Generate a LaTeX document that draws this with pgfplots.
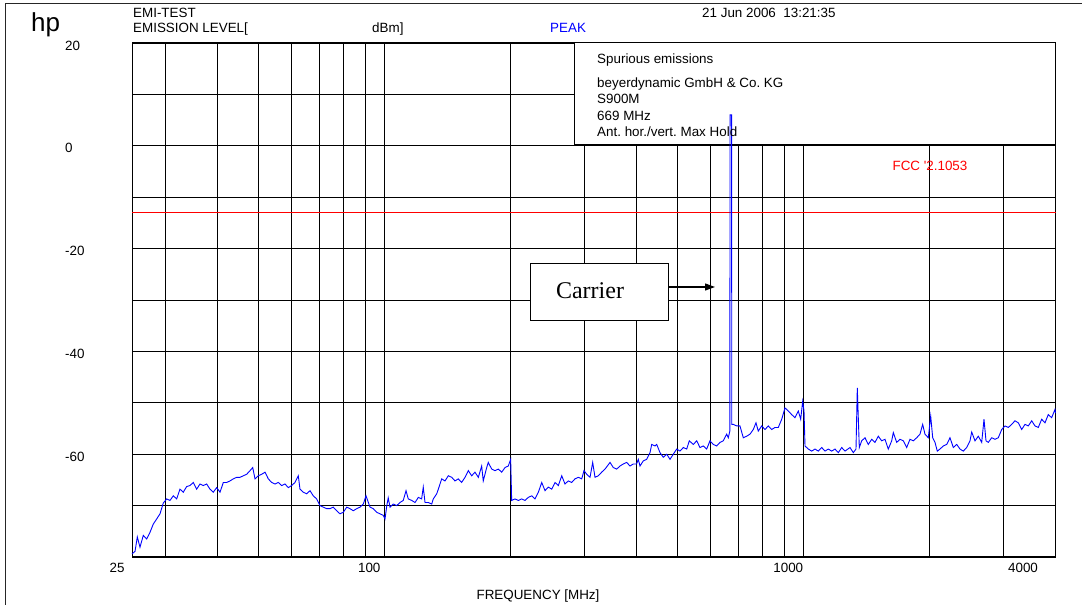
\documentclass[border=0pt]{standalone}
\usepackage{fontspec}
\setmainfont{Liberation Sans}
\newfontfamily\serifx{Liberation Serif}
\usepackage{pgfplots}
\pgfplotsset{compat=1.18}
\usetikzlibrary{arrows.meta}
\newcommand\ft{\fontsize{13.4bp}{16bp}\selectfont}
\begin{document}
\frenchspacing
\ft
\begin{tikzpicture}[x=1bp,y=1bp]
\useasboundingbox (0,0) rectangle (1082,605);
\draw[line width=1bp, black!85] (5,0) -- (5,601) -- (1082,601);
\node[anchor=base west, inner sep=0, font=\fontsize{26bp}{30bp}\selectfont] at (31,573) {hp};
\node[anchor=base west, inner sep=0] at (133,587) {EMI-TEST};
\node[anchor=base west, inner sep=0] at (133,572) {EMISSION LEVEL[};
\node[anchor=base west, inner sep=0] at (372,572) {dBm]};
\node[anchor=base west, inner sep=0, text=blue] at (550,572) {PEAK};
\node[anchor=base west, inner sep=0] at (702,587) {21 Jun 2006\ \ 13:21:35};
\begin{axis}[
  at={(132bp,48bp)}, anchor=south west, scale only axis,
  width=923.5bp, height=514bp,
  xmode=log, xmin=25, xmax=4000, ymin=-80, ymax=20,
  xtick={25,30,40,50,60,70,80,90,100,200,300,400,500,600,700,800,900,1000,2000,3000,4000},
  xticklabels={25,,,,,,,,100,,,,,,,,,1000,,,{4000\rule{35bp}{0pt}}},
  ytick={-80,-70,-60,-50,-40,-30,-20,-10,0,10,20},
  yticklabels={,,-60,,-40,,-20,,0,,20},
  grid=major, major grid style={black, line width=0.8bp},
  major tick length=0pt, minor tick length=0pt,
  axis line style={line width=1bp},
  xticklabel style={anchor=north, inner sep=0pt, yshift=-5.7bp, xshift=-15bp, font=\ft},
  yticklabel style={anchor=west, inner sep=0pt, xshift=-67bp, yshift=-2.5bp, font=\ft},
  clip=false,
]
\draw[line width=1bp, fill=white] (rel axis cs:0.4786,0.8016) rectangle (rel axis cs:1,1);
\addplot[red, line width=0.8bp] coordinates {(25,-13) (4000,-13)};
\addplot[blue, line width=0.9bp] coordinates {
(25.0,-79.4) (25.42,-78.9) (25.74,-76.1) (26.12,-78.1) (26.60,-75.8) (27.10,-76.5) (27.60,-75.2) (28.10,-73.6)
(28.63,-72.6) (29.16,-71.6) (29.69,-69.5) (30.25,-68.7) (30.80,-69.0) (31.37,-68.1) (31.96,-68.7) (32.54,-66.8)
(33.14,-67.4) (33.76,-66.3) (34.38,-66.1) (35.01,-65.5) (35.67,-66.8) (36.33,-65.8) (36.99,-66.1) (37.69,-65.8)
(38.38,-66.8) (39.08,-67.4) (39.82,-66.5) (40.55,-67.4) (41.29,-65.5) (42.07,-65.5) (42.84,-65.2) (43.62,-64.8)
(44.44,-64.5) (45.26,-64.5) (46.08,-64.2) (46.96,-63.9) (47.82,-63.2) (48.53,-62.6) (49.15,-64.8) (50.05,-64.2)
(50.99,-63.9) (51.93,-63.5) (52.87,-64.8) (53.87,-65.5) (54.86,-65.8) (55.86,-65.5) (56.91,-66.1) (57.95,-65.8)
(59.02,-66.5) (60.13,-66.1) (61.23,-65.5) (62.35,-64.2) (62.93,-66.8) (64.09,-67.4) (65.30,-67.7) (66.49,-67.1)
(67.70,-68.1) (68.98,-68.7) (70.25,-70.0) (71.53,-70.3) (72.88,-70.6) (74.21,-70.6) (75.57,-70.3) (77.0,-71.0)
(78.41,-71.6) (79.84,-71.3) (81.35,-70.3) (82.84,-70.6) (84.35,-71.0) (85.95,-70.6) (87.52,-70.3) (89.12,-69.7)
(90.45,-68.1) (92.47,-70.3) (94.16,-70.6) (95.93,-71.3) (97.68,-71.6) (99.47,-71.9) (100.41,-72.6) (101.4,-70.0)
(102.2,-68.5) (103.2,-70.3) (105.1,-69.7) (107.1,-70.0) (109.0,-69.4) (111.0,-69.0) (112.7,-67.1) (114.1,-68.7)
(116.3,-69.0) (118.4,-69.4) (120.6,-68.4) (122.8,-68.7) (123.9,-66.4) (125.1,-69.4) (127.4,-69.4) (129.8,-69.7)
(130.9,-68.7) (133.4,-67.7) (134.6,-66.8) (137.1,-64.8) (139.6,-65.2) (142.2,-64.2) (144.9,-64.5) (147.5,-65.2)
(150.2,-64.8) (153.0,-65.5) (155.9,-64.5) (158.7,-63.2) (161.7,-64.2) (164.6,-63.5) (167.7,-64.5) (170.8,-62.3)
(172.3,-65.2) (175.6,-62.6) (177.1,-61.6) (180.5,-62.9) (183.8,-63.2) (187.2,-62.9) (190.7,-63.5) (194.2,-62.6)
(197.7,-62.3) (200.3,-61.0) (201.4,-69.0) (205.1,-68.7) (208.9,-69.0) (212.8,-68.7) (216.7,-69.0) (220.7,-68.4)
(224.9,-68.1) (229.0,-68.7) (233.2,-67.4) (237.6,-65.5) (241.9,-67.1) (246.3,-66.4) (251.0,-66.8) (255.6,-65.5)
(260.3,-66.1) (265.2,-64.2) (270.0,-65.8) (274.9,-65.2) (280.1,-65.5) (285.2,-64.8) (290.5,-64.5) (296.0,-64.8)
(299.7,-63.2) (304.2,-63.9) (309.8,-64.5) (314.4,-61.6) (318.4,-64.5) (324.2,-64.2) (330.3,-63.5) (336.4,-62.9)
(345.8,-61.6) (352.1,-62.6) (358.7,-62.9) (365.3,-62.3) (372.0,-61.9) (379.0,-61.6) (385.9,-62.3) (393.0,-61.9)
(400.1,-61.9) (403.9,-61.0) (407.7,-62.3) (415.2,-61.3) (423.0,-61.0) (430.8,-59.7) (434.8,-58.1) (442.8,-58.4)
(446.9,-58.1) (455.1,-59.7) (463.4,-60.6) (472.2,-60.0) (480.8,-61.0) (489.6,-60.0) (498.8,-59.0) (507.9,-59.4)
(517.3,-58.7) (527.0,-59.0) (534.6,-57.4) (546.5,-58.1) (556.8,-57.4) (566.9,-58.7) (577.3,-58.4) (588.2,-59.0)
(599.0,-57.4) (609.9,-58.1) (621.4,-58.4) (632.8,-57.7) (644.4,-57.4) (656.5,-56.1) (662.3,-56.8) (668.0,-55.5)
(668.8,6.0) (674.5,6.0) (675.2,-54.2)
(680.8,-54.2) (693.6,-54.5) (706.3,-54.5) (719.3,-56.8) (732.8,-56.5) (746.3,-56.1) (759.9,-55.2) (771.3,-53.9)
(781.1,-55.5) (795.8,-54.5) (810.4,-55.2) (825.2,-54.5) (840.7,-55.2) (856.2,-54.8) (871.8,-54.8) (888.3,-53.2)
(904.5,-51.0) (921.1,-51.6) (938.4,-52.3) (955.6,-52.9) (973.1,-51.6) (986.0,-53.2) (996.9,-49.7) (1004.1,-51.6)
(1009.6,-58.4) (1028.1,-59.0) (1047.5,-59.4) (1066.6,-59.0) (1086.1,-59.4) (1106.7,-58.7) (1127.0,-59.4) (1147.5,-59.0)
(1169.2,-59.4) (1190.5,-59.0) (1212.3,-59.7) (1235.2,-58.7) (1257.8,-59.4) (1292.9,-58.7) (1316.5,-59.7) (1336.2,-59.0)
(1345.8,-47.1) (1360.7,-58.7) (1378.7,-57.4) (1404.0,-56.8) (1429.7,-58.1) (1456.6,-57.1) (1483.3,-57.7) (1510.4,-56.5)
(1538.9,-57.4) (1567.1,-57.1) (1595.7,-59.0) (1625.9,-57.4) (1640.3,-55.8) (1671.1,-57.7) (1701.7,-57.1) (1732.8,-57.4)
(1765.5,-58.7) (1797.8,-57.1) (1830.7,-57.4) (1865.2,-56.8) (1899.4,-56.1) (1927.8,-54.2) (1952.3,-56.1) (1988.0,-56.8)
(2014.5,-52.6) (2036.7,-56.8) (2062.6,-57.7) (2088.9,-59.4) (2120.0,-59.0) (2158.9,-58.4) (2199.4,-58.1) (2239.8,-56.8)
(2281.0,-58.7) (2324.0,-58.1) (2366.5,-59.0) (2409.7,-59.4) (2455.2,-58.7) (2500.0,-57.4) (2523.6,-55.7) (2569.8,-57.4)
(2616.8,-56.5) (2666.2,-57.7) (2700.0,-53.2) (2730.0,-57.4) (2764.4,-57.7) (2816.7,-56.8) (2868.3,-57.1) (2920.8,-56.8)
(2975.9,-55.2) (3030.3,-54.5) (3085.7,-54.8) (3144.0,-54.2) (3201.3,-53.5) (3260.0,-53.9) (3321.5,-55.2) (3382.4,-54.2)
(3444.3,-54.5) (3509.2,-53.5) (3573.5,-54.5) (3638.9,-54.8) (3707.6,-53.2) (3775.2,-53.9) (3844.4,-52.3) (3916.9,-52.9)
(3988.6,-51.3) (4000,-52.0)
};
\end{axis}
\node[anchor=base west, inner sep=0] at (597,541) {Spurious emissions};
\node[anchor=base west, inner sep=0] at (597,517) {beyerdynamic GmbH \& Co. KG};
\node[anchor=base west, inner sep=0] at (597,501) {S900M};
\node[anchor=base west, inner sep=0] at (597,484) {669 MHz};
\node[anchor=base west, inner sep=0] at (597,468) {Ant. hor./vert. Max Hold};
\node[anchor=base, inner sep=0, text=red] at (930,434) {FCC \textquotesingle 2.1053};
\draw[line width=1bp, fill=white] (530,284) rectangle (668,341);
\node[inner sep=0, font=\serifx\fontsize{24bp}{28bp}\selectfont] at (590,314) {Carrier};
\draw[line width=1.2bp, -{Triangle[length=10bp,width=7bp]}] (668,318) -- (715,318);
\node[anchor=base, inner sep=0] at (538,5) {FREQUENCY [MHz]};
\end{tikzpicture}
\end{document}
